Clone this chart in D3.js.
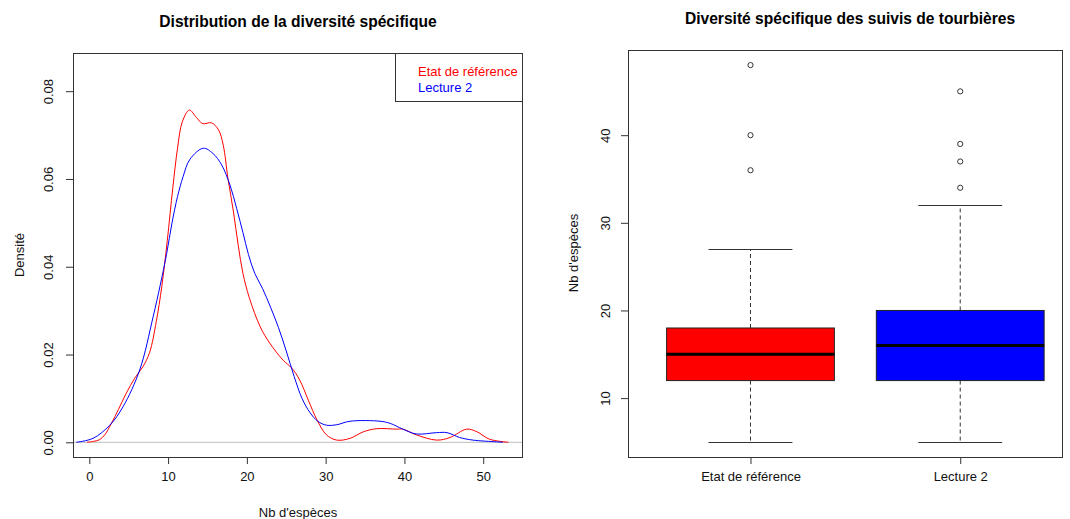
<!DOCTYPE html>
<html>
<head>
<meta charset="utf-8">
<script src="https://cdn.jsdelivr.net/npm/d3@7"></script>
<style>
html,body{margin:0;padding:0;background:#fff;}
svg text{font-family:"Liberation Sans",Arial,sans-serif;}
</style>
</head>
<body>
<svg id="chart" width="1070" height="519"></svg>
<script>
// ---- Data: density curves (left panel) ----
const refX = [-0.3,0.5,1.3,2.0,2.8,3.7,4.7,5.76,6.8,7.66,8.5,9.2,9.9,10.6,11.2,11.8,12.7,13.6,14.4,15.5,16.4,17.0,17.6,18.3,18.9,19.5,20.3,21.7,22.9,24.6,25.7,26.7,27.8,28.9,30.1,31.4,33.1,34.8,36.5,39.0,39.8,41.5,44.1,45.8,47.9,49.2,50.8,53.2];
const refY = [0,0.0002,0.0006,0.0018,0.0043,0.0075,0.0112,0.0146,0.0172,0.0205,0.0275,0.0355,0.0460,0.0580,0.0670,0.0730,0.0757,0.0740,0.0726,0.0728,0.0712,0.0677,0.0601,0.0525,0.0449,0.0385,0.0330,0.0263,0.0226,0.0187,0.0169,0.0142,0.0096,0.0051,0.0017,0.0005,0.0009,0.0024,0.0031,0.0030,0.0030,0.0017,0.0005,0.0011,0.0030,0.0024,0.0007,0];
const l2X = [-1.65,0.47,2.6,4.28,6.4,8.1,9.0,9.8,10.5,11.2,11.9,12.78,14.47,15.7,16.8,17.86,18.7,19.5,20.2,21.0,22.0,23.0,24.0,25.0,26.0,27.0,28.0,29.0,30.1,31.4,33.1,36.9,38.2,39.8,41.5,44.1,45.4,47.0,48.7,51.7,52.5];
const l2Y = [0,0.0009,0.0039,0.0081,0.0165,0.0286,0.0358,0.0428,0.0500,0.0560,0.0605,0.0645,0.0670,0.0658,0.0632,0.0586,0.0533,0.0478,0.0428,0.0385,0.0350,0.0308,0.0262,0.0208,0.0150,0.0100,0.0068,0.0048,0.0039,0.0040,0.0048,0.0048,0.0043,0.0030,0.0019,0.0022,0.0022,0.0011,0.0005,0.0001,0];
const densXTicks = [0,10,20,30,40,50];
const densYTicks = [0,0.02,0.04,0.06,0.08];
const seriesNames = ["Etat de référence","Lecture 2"];
const seriesColors = ["#ff0000","#0000ff"];

// ---- Data: boxplot (right panel) ----
const categories = ["Etat de référence","Lecture 2"];
const whiskerLow = [5,5];
const q1 = [12,12];
const median = [15,16];
const q3 = [18,20];
const whiskerHigh = [27,32];
const outliers = [[36,40,48],[34,37,39,45]];
const boxFill = ["#ff0000","#0000ff"];
const boxYTicks = [10,20,30,40];

const svg = d3.select("#chart");
const axisCol = "#333";
const txtCol = "#111";

// ================= LEFT PANEL =================
const L = {left:73, right:523, top:53, bottom:457};
const xL = d3.scaleLinear().domain([-2.07,55.05]).range([L.left,L.right]);
const yL = d3.scaleLinear().domain([-0.00335,0.0887]).range([L.bottom,L.top]);

// zero line
svg.append("line").attr("x1",L.left).attr("x2",L.right)
  .attr("y1",yL(0)).attr("y2",yL(0)).attr("stroke","#bebebe").attr("stroke-width",1);

const line = d3.line().x(d=>xL(d[0])).y(d=>yL(Math.max(0,d[1]))).curve(d3.curveCatmullRom.alpha(0.5));
[[refX,refY],[l2X,l2Y]].forEach((s,i)=>{
  svg.append("path").datum(s[0].map((x,j)=>[x,s[1][j]]))
    .attr("d",line).attr("fill","none").attr("stroke",seriesColors[i]).attr("stroke-width",1);
});

// frame
svg.append("rect").attr("x",L.left+0.5).attr("y",L.top+0.5)
  .attr("width",L.right-L.left-1).attr("height",L.bottom-L.top)
  .attr("fill","none").attr("stroke",axisCol).attr("stroke-width",1);

// x axis
const gxL = svg.append("g").attr("transform",`translate(0,${L.bottom})`)
  .call(d3.axisBottom(xL).tickValues(densXTicks).tickSize(7).tickPadding(8).tickFormat(d3.format("d")));
gxL.select(".domain").attr("stroke",axisCol)
  .attr("d",`M${xL(densXTicks[0])},0.5H${xL(densXTicks[densXTicks.length-1])}`);
gxL.selectAll(".tick line").attr("stroke",axisCol);
gxL.selectAll("text").attr("font-size","13px").attr("fill",txtCol).attr("font-family","Liberation Sans, Arial");

// y axis (rotated labels)
const gyL = svg.append("g").attr("transform",`translate(${L.left},0)`)
  .call(d3.axisLeft(yL).tickValues(densYTicks).tickSize(7).tickFormat(d3.format(".2f")));
gyL.select(".domain").attr("stroke",axisCol)
  .attr("d",`M0.5,${yL(densYTicks[0])}V${yL(densYTicks[densYTicks.length-1])}`);
gyL.selectAll(".tick line").attr("stroke",axisCol);
gyL.selectAll("text").attr("font-size","13px").attr("fill",txtCol)
  .attr("font-family","Liberation Sans, Arial")
  .attr("x",null).attr("dy",null)
  .attr("text-anchor","middle")
  .attr("transform",`translate(${53-L.left},0) rotate(-90)`);

// titles
svg.append("text").attr("x",298).attr("y",27).attr("text-anchor","middle")
  .attr("font-size","15.6px").attr("font-weight","bold").attr("fill","#000")
  .text("Distribution de la diversité spécifique");
svg.append("text").attr("x",298).attr("y",516.5).attr("text-anchor","middle")
  .attr("font-size","13px").attr("fill",txtCol).text("Nb d'espèces");
svg.append("text").attr("transform","translate(24,255) rotate(-90)").attr("text-anchor","middle")
  .attr("font-size","13px").attr("fill",txtCol).text("Densité");

// legend
svg.append("rect").attr("x",395.5).attr("y",L.top+0.5).attr("width",L.right-396).attr("height",48)
  .attr("fill","#fff").attr("stroke",axisCol).attr("stroke-width",1);
seriesNames.forEach((n,i)=>{
  svg.append("text").attr("x",418).attr("y",76+i*15.7).attr("font-size","13px")
    .attr("fill",seriesColors[i]).text(n);
});

// ================= RIGHT PANEL =================
const R = {left:628, right:1063, top:50, bottom:457};
const xR = d3.scaleLinear().domain([0.416,2.49]).range([R.left,R.right]);
const yR = d3.scaleLinear().domain([3.28,49.72]).range([R.bottom,R.top]);

categories.forEach((c,i)=>{
  const cx = xR(i+1);
  const bw = xR(i+1.4)-cx;
  const sw = xR(i+1.2)-cx;
  const g = svg.append("g");
  g.append("line").attr("x1",cx).attr("x2",cx).attr("y1",yR(q3[i])).attr("y2",yR(whiskerHigh[i]))
    .attr("stroke",axisCol).attr("stroke-dasharray","4,3");
  g.append("line").attr("x1",cx).attr("x2",cx).attr("y1",yR(q1[i])).attr("y2",yR(whiskerLow[i]))
    .attr("stroke",axisCol).attr("stroke-dasharray","4,3");
  [whiskerHigh[i],whiskerLow[i]].forEach(v=>{
    g.append("line").attr("x1",cx-sw).attr("x2",cx+sw).attr("y1",Math.round(yR(v))+0.5).attr("y2",Math.round(yR(v))+0.5)
      .attr("stroke",axisCol);
  });
  g.append("rect").attr("x",cx-bw).attr("y",yR(q3[i])).attr("width",2*bw)
    .attr("height",yR(q1[i])-yR(q3[i])).attr("fill",boxFill[i]).attr("stroke","#222").attr("stroke-width",1);
  g.append("line").attr("x1",cx-bw).attr("x2",cx+bw).attr("y1",yR(median[i])).attr("y2",yR(median[i]))
    .attr("stroke","#000").attr("stroke-width",3);
  outliers[i].forEach(v=>{
    g.append("circle").attr("cx",cx).attr("cy",yR(v)).attr("r",2.6)
      .attr("fill","none").attr("stroke","#333").attr("stroke-width",1);
  });
});

// frame
svg.append("rect").attr("x",R.left+0.5).attr("y",R.top+0.5)
  .attr("width",R.right-R.left-1).attr("height",R.bottom-R.top)
  .attr("fill","none").attr("stroke",axisCol).attr("stroke-width",1);

// x axis
const gxR = svg.append("g").attr("transform",`translate(0,${R.bottom})`)
  .call(d3.axisBottom(xR).tickValues([1,2]).tickSize(7).tickPadding(8).tickFormat((d,i)=>categories[i]));
gxR.select(".domain").remove();
gxR.selectAll(".tick line").attr("stroke",axisCol);
gxR.selectAll("text").attr("font-size","13px").attr("fill",txtCol).attr("font-family","Liberation Sans, Arial");

// y axis
const gyR = svg.append("g").attr("transform",`translate(${R.left},0)`)
  .call(d3.axisLeft(yR).tickValues(boxYTicks).tickSize(7).tickFormat(d3.format("d")));
gyR.select(".domain").remove();
gyR.selectAll(".tick line").attr("stroke",axisCol);
gyR.selectAll("text").attr("font-size","13px").attr("fill",txtCol)
  .attr("font-family","Liberation Sans, Arial")
  .attr("x",null).attr("dy",null)
  .attr("text-anchor","middle")
  .attr("transform",`translate(${610-R.left},0) rotate(-90)`);

svg.append("text").attr("x",850).attr("y",24).attr("text-anchor","middle")
  .attr("font-size","15.6px").attr("font-weight","bold").attr("fill","#000")
  .text("Diversité spécifique des suivis de tourbières");
svg.append("text").attr("transform","translate(578,253) rotate(-90)").attr("text-anchor","middle")
  .attr("font-size","13px").attr("fill",txtCol).text("Nb d'espèces");
</script>
</body>
</html>
